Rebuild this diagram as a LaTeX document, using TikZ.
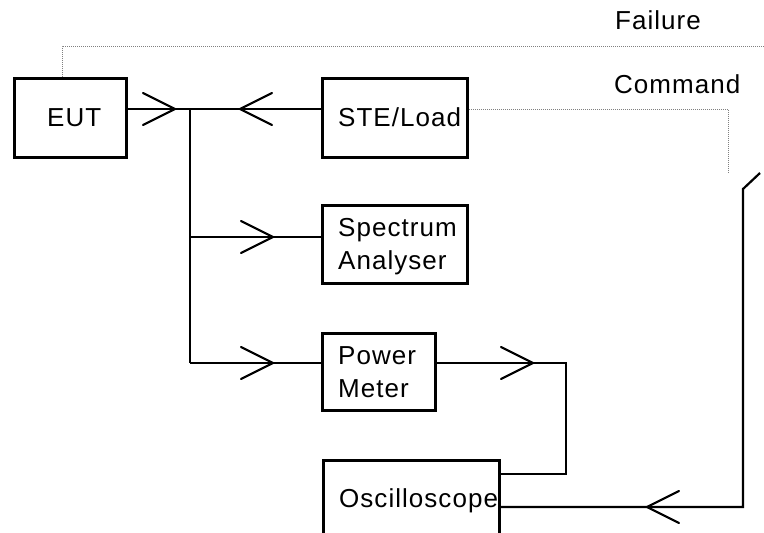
\documentclass[tikz,border=0pt]{standalone}
\usepackage{fontspec}
\setmainfont{Liberation Sans}[LetterSpace=4]
\begin{document}
\begin{tikzpicture}[x=1pt,y=-1pt,
  box/.style={draw,line width=2.8pt,rectangle,inner sep=0pt,anchor=north west},
  conn/.style={line width=2.2pt},
  ctrl/.style={gray,line width=0.9pt,dash pattern=on 1pt off 1pt},
  lbl/.style={inner sep=0pt,anchor=base west,font=\fontsize{26}{33}\selectfont,align=left},
  chev/.pic={\draw[conn,line cap=round] (-32,-16) -- (0,0) -- (-32,16);}
]
\useasboundingbox (0,0) rectangle (764,533);
\clip (0,0) rectangle (764,533);
% boxes
\node[box,minimum width=112pt,minimum height=79pt] (eut) at (13,77) {};
\node[box,minimum width=145pt,minimum height=79pt] (ste) at (321,77) {};
\node[box,minimum width=145pt,minimum height=78pt] (spec) at (321,204) {};
\node[box,minimum width=113pt,minimum height=77pt] (pm) at (321,332) {};
\node[box,minimum width=176pt,minimum height=110pt] (osc) at (322,459) {};
% labels
\node[lbl] (teut) at (47,126) {EUT};
\node[lbl] (tste) at (338,126) {STE/Load};
\node[lbl] (tspec) at (338,269) {Spectrum\\Analyser};
\node[lbl] (tpm) at (338,397) {Power\\Meter};
\node[lbl] (tosc) at (339,507) {Oscilloscope};
\node[lbl] (tfail) at (615,29) {Failure};
\node[lbl] (tcmd) at (614,93) {Command};
% coordinates
\coordinate (j1) at (190,109);
\coordinate (j2) at (190,237);
\coordinate (j3) at (190,363);
\coordinate (pmr) at (566,363);
\coordinate (pmd) at (566,474);
\coordinate (oc) at (743,507);
\coordinate (ou) at (743,189);
\coordinate (oe) at (760,173);
\coordinate (f1) at (62,46);
\coordinate (f2) at (764,46);
\coordinate (c1) at (728,109);
\coordinate (c2) at (728,173);
% connectors
\draw[conn] (eut.east |- j1) -- (j1) -- (ste.west |- j1);
\draw[conn] (j1) -- (j3);
\draw[conn] (j2) -- (spec.west |- j2);
\draw[conn] (j3) -- (pm.west |- j3);
\draw[conn] (pm.east |- pmr) -- (pmr) -- (pmd) -- (osc.east |- pmd);
\draw[conn] (osc.east |- oc) -- (oc) -- (ou) -- (oe);
\draw[ctrl] (eut.north -| f1) -- (f1) -- (f2);
\draw[ctrl] (ste.east |- c1) -- (c1) -- (c2);
% chevrons
\pic at (175,109) {chev};
\pic[rotate=180] at (240,109) {chev};
\pic at (273,237) {chev};
\pic at (273,363) {chev};
\pic at (533,363) {chev};
\pic[rotate=180] at (647,507) {chev};
\end{tikzpicture}
\end{document}
